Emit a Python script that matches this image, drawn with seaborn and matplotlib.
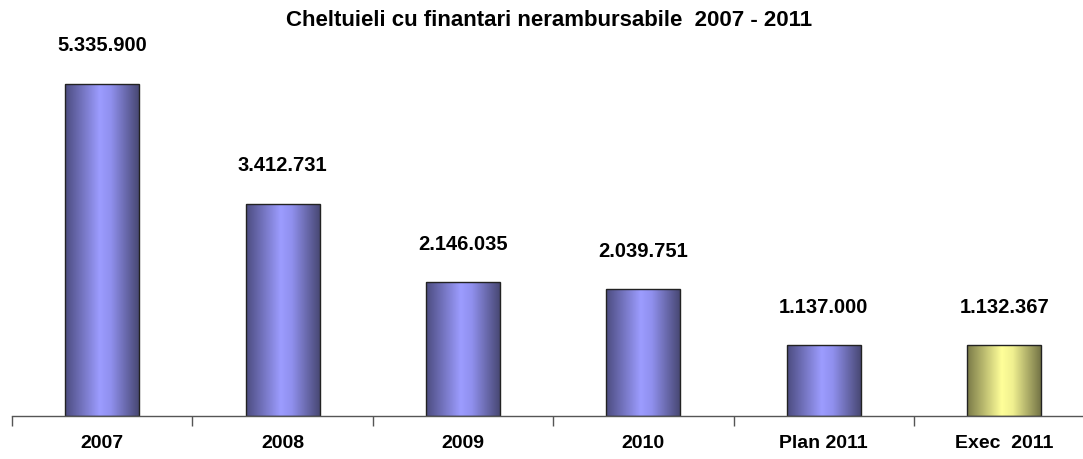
import numpy as np
import pandas as pd
import matplotlib
matplotlib.use("Agg")
import matplotlib.pyplot as plt
from matplotlib.colors import LinearSegmentedColormap
import seaborn as sns

categories = ["2007", "2008", "2009", "2010", "Plan 2011", "Exec  2011"]
values = [5335900, 3412731, 2146035, 2039751, 1137000, 1132367]
value_labels = ["5.335.900", "3.412.731", "2.146.035", "2.039.751", "1.137.000", "1.132.367"]
title = "Cheltuieli cu finantari nerambursabile  2007 - 2011"

sns.set_theme(style="white")
plt.rcParams['font.family'] = ['Liberation Sans', 'DejaVu Sans']
plt.rcParams['text.color'] = 'black'
plt.rcParams['xtick.color'] = 'black'

df = pd.DataFrame({"cat": categories, "val": values})

fig = plt.figure(figsize=(10.83, 4.6), dpi=100)
ax = fig.add_axes([12/1083, 43/460, 1 - 12/1083, 0.85])

sns.barplot(data=df, x="cat", y="val", ax=ax, width=0.41, color="#9999FF",
            edgecolor="#222222", linewidth=1.0, saturation=1)

blue = LinearSegmentedColormap.from_list("b", [(0, "#4C4C80"), (0.47, "#9C9CFF"), (0.62, "#9090EE"), (1, "#484874")])
yellow = LinearSegmentedColormap.from_list("y", [(0, "#7A7A48"), (0.47, "#FFFF99"), (0.62, "#F0F090"), (1, "#747446")])
grad = np.linspace(0, 1, 256).reshape(1, -1)

for i, p in enumerate(ax.patches):
    x0, y0 = p.get_x(), p.get_y()
    w, h = p.get_width(), p.get_height()
    cmap = yellow if i == len(categories) - 1 else blue
    im = ax.imshow(grad, cmap=cmap, extent=[x0, x0 + w, y0, y0 + h], aspect="auto", zorder=p.get_zorder() + 0.1, interpolation="bilinear")
    im.set_clip_path(p)
    p.set_facecolor("none")
    p.set_zorder(p.get_zorder() + 0.2)
    ax.annotate(value_labels[i], (x0 + w / 2, y0 + h), xytext=(0, 28), textcoords="offset points",
                ha="center", va="center", fontsize=14.5, fontweight="bold", color="black")

ax.set_xlim(-0.5, 5.437)
ax.set_ylim(0, 6.28e6)
ax.set_xlabel("")
ax.set_ylabel("")
ax.set_yticks([])
for s in ["top", "right", "left"]:
    ax.spines[s].set_visible(False)
ax.spines["bottom"].set_color("#555555")
ax.spines["bottom"].set_linewidth(1.0)
ax.set_xticks(range(len(categories)))
ax.set_xticklabels(categories, fontsize=14, fontweight="bold", color="black")
ax.tick_params(axis="x", which="major", length=0, pad=13)
ax.set_xticks(np.arange(-0.5, 5.5, 1.0), minor=True)
ax.tick_params(axis="x", which="minor", length=7, width=1, color="#555555", direction="out", bottom=True)

fig.text(549/1083, 1 - 21/460, title, ha="center", va="center", fontsize=16, fontweight="bold", color="black")

fig.savefig("out.png", dpi=100)
